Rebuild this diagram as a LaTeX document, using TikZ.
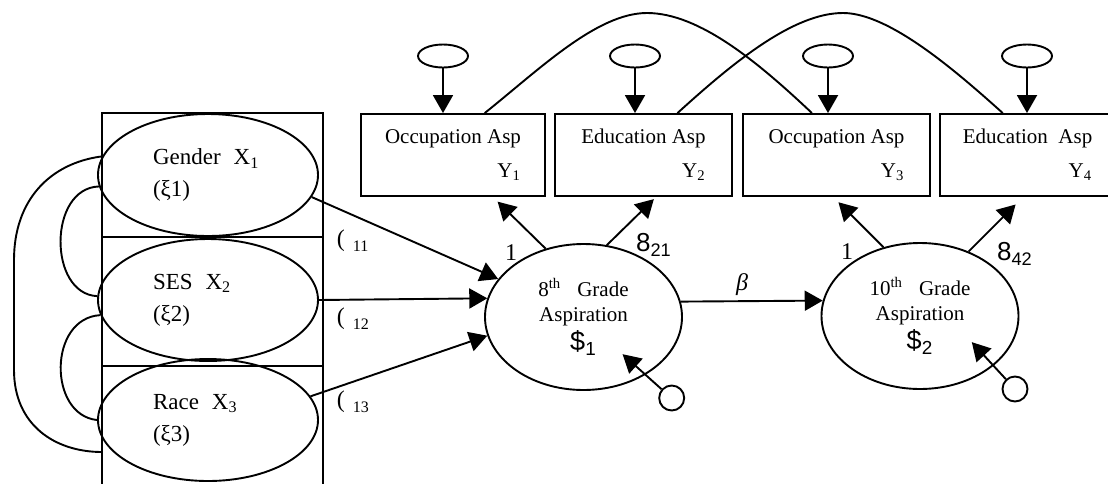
\documentclass[tikz,border=0pt]{standalone}
\usepackage{fontspec}
\setmainfont{Liberation Serif}
\newfontfamily\arialfont{Liberation Sans}
\usetikzlibrary{arrows.meta, calc, shapes.geometric}

\begin{document}
\begin{tikzpicture}[x=0.5pt, y=-0.5pt, line width=0.95pt,
    >={Triangle[length=9pt, width=10pt]},
    exo/.style={ellipse, draw, minimum width=110pt, minimum height=61pt, inner sep=0pt,
                text width=55pt, align=left, font=\fontsize{11.5}{16}\selectfont},
    obs/.style={rectangle, draw, minimum height=41pt, inner sep=0pt, align=right,
                font=\fontsize{10.5}{17}\selectfont},
    lat/.style={ellipse, draw, minimum width=98.5pt, minimum height=73pt, inner sep=0pt,
                align=center, font=\fontsize{10.5}{12.5}\selectfont},
    err/.style={ellipse, draw, minimum width=25pt, minimum height=11.5pt, inner sep=0pt},
    dist/.style={circle, draw, minimum size=12.5pt, inner sep=0pt},
    gam/.style={anchor=west, inner sep=0pt, font=\fontsize{12}{12}\selectfont},
    lab/.style={inner sep=0pt, font=\fontsize{12}{12}\selectfont}]
    \useasboundingbox (0,0) rectangle (1108,483);

    % Exogenous block
    \draw (102,490) -- (102,113) -- (323,113) -- (323,490);
    \draw (102,237) -- (323,237);
    \draw (102,366) -- (323,366);
    \node[exo] (gender) at (208,175) {Gender\hspace{6.5pt}X\textsubscript{1}\\(ξ1)};
    \node[exo] (ses) at (208,300) {SES\hspace{6.5pt}X\textsubscript{2}\\(ξ2)};
    \node[exo] (race) at (208,420) {Race\hspace{6.5pt}X\textsubscript{3}\\(ξ3)};

    % Correlations among the X's
    \coordinate (loopend) at (102,452);
    \draw (gender.186) .. controls (48,188) and (48,294) .. (ses.178);
    \draw (ses.188) .. controls (48,318) and (48,415) .. (race.180);
    \draw (gender.170) .. controls (50,163) and (14,200) .. (14,260) -- (14,370)
          .. controls (14,425) and (55,452) .. (loopend);

    % Indicators
    \node[obs, minimum width=92.4pt] (y1) at (453,155) {Occupation Asp\\Y\textsubscript{1}};
    \node[obs, minimum width=88.5pt] (y2) at (643.5,155) {Education Asp\\Y\textsubscript{2}};
    \node[obs, minimum width=93.5pt] (y3) at (836.5,155) {Occupation Asp\\Y\textsubscript{3}};
    \node[obs, minimum width=87.5pt] (y4) at (1027.5,155) {Education\ \ Asp\\Y\textsubscript{4}};

    % Measurement errors
    \node[err] (e1) at (443,56) {};
    \node[err] (e2) at (635,56) {};
    \node[err] (e3) at (828,56) {};
    \node[err] (e4) at (1027,56) {};
    \draw[->] (e1) -- (e1 |- y1.north);
    \draw[->] (e2) -- (e2 |- y2.north);
    \draw[->] (e3) -- (e3 |- y3.north);
    \draw[->] (e4) -- (e4 |- y4.north);

    % Correlated errors
    \coordinate (a1) at ($(y1.north west)!0.67!(y1.north east)$);
    \coordinate (a2) at ($(y3.north west)!0.37!(y3.north east)$);
    \coordinate (b1) at ($(y2.north west)!0.69!(y2.north east)$);
    \coordinate (b2) at ($(y4.north west)!0.36!(y4.north east)$);
    \draw (a1) .. controls +(55,-44) and +(-50,0) .. (647,13)
          .. controls +(53,0) and +(-52,-49) .. (a2);
    \draw (b1) .. controls +(55,-50) and +(-50,0) .. (843,13)
          .. controls +(45,0) and +(-50,-45) .. (b2);

    % Latent variables
    \node[lat] (asp8) at (583.5,317) {8\textsuperscript{th}\hspace{8pt}Grade\\Aspiration\\[2pt]{\arialfont\fontsize{13.5}{14}\selectfont\$\textsubscript{1}}};
    \node[lat] (asp10) at (920,316) {10\textsuperscript{th}\hspace{8pt}Grade\\Aspiration\\[2pt]{\arialfont\fontsize{13.5}{14}\selectfont\$\textsubscript{2}}};

    % Disturbances
    \node[dist] (d1) at (671.7,398) {};
    \node[dist] (d2) at (1015,389) {};
    \draw[->] (d1.139) -- ++(-39,-35);
    \draw[->] (d2.133) -- ++(-34,-37);

    % Loadings
    \draw[->] (asp8.119) -- ++(-48,-47);
    \draw[->] (asp8.72) -- ++(47,-46);
    \draw[->] (asp10.118) -- ++(-45,-45);
    \draw[->] (asp10.53) -- ++(47,-47);
    \node[lab] (one1) at (511,253) {1};
    \node[lab] (lam21) at (654,245) {\arialfont\fontsize{13}{13}\selectfont 8\textsubscript{21}};
    \node[lab] (one3) at (847,252) {1};
    \node[lab] (lam42) at (1015,254) {\arialfont\fontsize{13}{13}\selectfont 8\textsubscript{42}};

    % Structural paths
    \draw[->] (gender.-12) -- (asp8.156);
    \draw[->] (ses.east) -- (asp8.169);
    \draw[->] (race.13) -- (asp8.191);
    \draw[->] (asp8.9) -- (asp10.171);
    \node[lab] (beta) at (742,285) {\itshape β};
    \node[gam] (g11) at (336,241) {(\hspace{4pt}\raisebox{-2.5pt}{\fontsize{8}{8}\selectfont 11}};
    \node[gam] (g12) at (336,318.5) {(\hspace{4pt}\raisebox{-2.5pt}{\fontsize{8}{8}\selectfont 12}};
    \node[gam] (g13) at (336,402) {(\hspace{4pt}\raisebox{-2.5pt}{\fontsize{8}{8}\selectfont 13}};
\end{tikzpicture}
\end{document}
